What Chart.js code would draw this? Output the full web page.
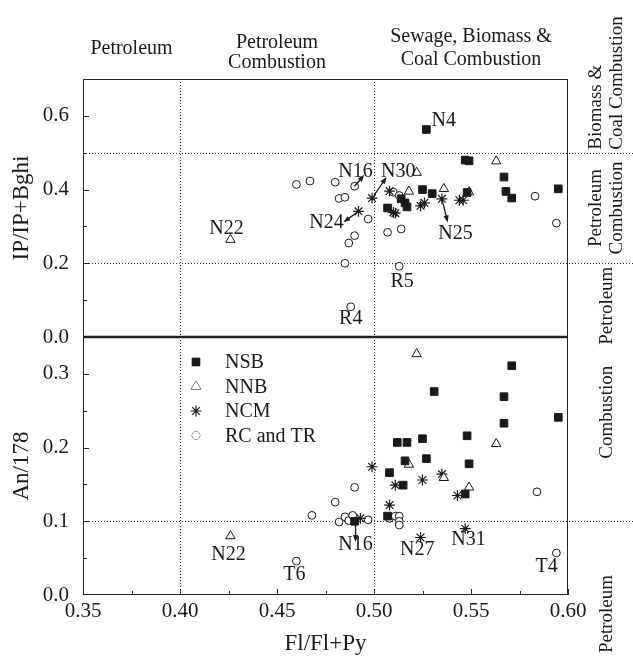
<!DOCTYPE html>
<html>
<head>
<meta charset="utf-8">
<script src="https://cdn.jsdelivr.net/npm/chart.js@4.4.0/dist/chart.umd.min.js"></script>
<style>
  html, body { margin: 0; padding: 0; background: #fff; }
</style>
</head>
<body>
<canvas id="myChart" width="633" height="661"></canvas>
<script>
// series names (legend order)
var seriesNames = ['NSB', 'NNB', 'NCM', 'RC and TR'];

// upper panel: IP/IP+Bghi vs Fl/Fl+Py
var nsbTop = [[0.527,0.563],[0.547,0.480],[0.549,0.478],[0.567,0.434],[0.525,0.400],[0.530,0.389],
  [0.548,0.392],[0.568,0.395],[0.571,0.377],[0.595,0.402],[0.514,0.375],[0.516,0.364],[0.517,0.353],[0.507,0.350]];
var nnbTop = [[0.426,0.264],[0.522,0.446],[0.518,0.395],[0.536,0.402],[0.549,0.393],[0.563,0.477]];
var ncmTop = [[0.499,0.377],[0.492,0.341],[0.508,0.396],[0.510,0.338],[0.511,0.336],[0.524,0.356],
  [0.526,0.364],[0.535,0.375],[0.544,0.371],[0.546,0.371]];
var rcTop = [[0.460,0.414],[0.467,0.423],[0.480,0.420],[0.490,0.409],[0.482,0.376],[0.485,0.379],
  [0.497,0.320],[0.490,0.275],[0.487,0.255],[0.485,0.200],[0.488,0.082],[0.513,0.192],[0.507,0.284],
  [0.514,0.293],[0.510,0.393],[0.513,0.384],[0.583,0.382],[0.594,0.309]];

// lower panel: An/178 vs Fl/Fl+Py
var nsbBot = [[0.571,0.311],[0.531,0.276],[0.567,0.269],[0.595,0.241],[0.567,0.233],[0.512,0.207],
  [0.517,0.207],[0.525,0.212],[0.548,0.216],[0.516,0.182],[0.527,0.185],[0.549,0.178],[0.508,0.166],
  [0.515,0.149],[0.547,0.137],[0.507,0.107],[0.490,0.100]];
var nnbBot = [[0.522,0.327],[0.563,0.205],[0.518,0.177],[0.536,0.159],[0.549,0.146],[0.426,0.080]];
var ncmBot = [[0.499,0.174],[0.511,0.149],[0.525,0.156],[0.535,0.164],[0.543,0.135],[0.508,0.122],
  [0.493,0.104],[0.524,0.078],[0.547,0.090]];
var rcBot = [[0.490,0.146],[0.480,0.126],[0.468,0.108],[0.482,0.099],[0.485,0.106],[0.487,0.101],
  [0.489,0.108],[0.497,0.102],[0.508,0.104],[0.511,0.107],[0.513,0.107],[0.513,0.100],[0.513,0.095],
  [0.460,0.046],[0.584,0.140],[0.594,0.057]];

// axis ticks
var xTicks = [0.35, 0.40, 0.45, 0.50, 0.55, 0.60];
var topTicks = [0.0, 0.2, 0.4, 0.6];
var botTicks = [0.0, 0.1, 0.2, 0.3];

// source boundaries
var xBounds = [0.40, 0.50];
var topBounds = [0.2, 0.5];
var botBounds = [0.1];

var topZoneNames = [['Petroleum'], ['Petroleum', 'Combustion'], ['Sewage, Biomass &', 'Coal Combustion']];
var rightTopNames = [['Biomass &', 'Coal Combustion'], ['Petroleum', 'Combustion'], ['Petroleum']];
var rightBotNames = [['Combustion'], ['Petroleum']];

// sample labels [text, x, y] and arrows [x1, y1, x2, y2]
var topNotes = [['N4',0.536,0.588],['N16',0.4905,0.447],['N30',0.5125,0.447],['N22',0.424,0.293],
  ['N24',0.4755,0.311],['N25',0.542,0.281],['R5',0.5145,0.149],['R4',0.488,0.049]];
var topArrows = [[0.490,0.409,0.495,0.440],[0.500,0.384,0.5065,0.434],[0.492,0.341,0.4842,0.311],[0.535,0.375,0.538,0.311]];
var botNotes = [['N22',0.425,0.054],['N16',0.4905,0.0676],['N27',0.5223,0.0608],['N31',0.5487,0.0752],
  ['T6',0.459,0.027],['T4',0.589,0.0383]];
var botArrows = [[0.4905,0.099,0.4905,0.072]];

var serif = '"Liberation Serif", "Times New Roman", serif';
var ink = '#1a1a1a';

function pts(arr) { return arr.map(function (p) { return {x: p[0], y: p[1]}; }); }

var styles = [
  {pointStyle: 'rect', pointRadius: 5.4, backgroundColor: ink, borderColor: ink, borderWidth: 1},
  {pointStyle: 'triangle', pointRadius: 5.4, backgroundColor: '#fff', borderColor: ink, borderWidth: 1},
  {pointStyle: 'star', pointRadius: 5.4, backgroundColor: ink, borderColor: ink, borderWidth: 1.2},
  {pointStyle: 'circle', pointRadius: 3.9, backgroundColor: '#fff', borderColor: ink, borderWidth: 1}
];

function ds(i, data, axis) {
  var s = styles[i];
  return {
    label: seriesNames[i], data: pts(data), yAxisID: axis, showLine: false,
    pointStyle: s.pointStyle, pointRadius: s.pointRadius, pointHoverRadius: s.pointRadius,
    backgroundColor: s.backgroundColor, borderColor: s.borderColor, borderWidth: s.borderWidth
  };
}

function hline(c, x1, y1, x2, y2) { c.beginPath(); c.moveTo(x1, y1); c.lineTo(x2, y2); c.stroke(); }

function arrow(c, x1, y1, x2, y2) {
  var ang = Math.atan2(y2 - y1, x2 - x1), L = 7, W = 2.6;
  c.lineWidth = 1.3;
  hline(c, x1, y1, x2 - Math.cos(ang) * L * 0.6, y2 - Math.sin(ang) * L * 0.6);
  c.beginPath();
  c.moveTo(x2, y2);
  c.lineTo(x2 - Math.cos(ang) * L - Math.sin(ang) * W, y2 - Math.sin(ang) * L + Math.cos(ang) * W);
  c.lineTo(x2 - Math.cos(ang) * L + Math.sin(ang) * W, y2 - Math.sin(ang) * L - Math.cos(ang) * W);
  c.closePath();
  c.fill();
}

// rotated text; align 'center' around cy, or 'left' starting at cy going up
function vtext(c, lines, cx, cy, gap, align) {
  c.save();
  c.translate(cx, cy);
  c.rotate(-Math.PI / 2);
  c.textAlign = align || 'center';
  var n = lines.length;
  lines.forEach(function (t, k) { c.fillText(t, 0, (k - (n - 1) / 2) * gap); });
  c.restore();
}

var decor = {
  id: 'decor',
  beforeDatasetsDraw: function (chart) {
    var c = chart.ctx, a = chart.chartArea, sx = chart.scales.x, st = chart.scales.yTop, sb = chart.scales.yBot;
    c.save();
    c.strokeStyle = '#333';
    c.lineWidth = 1;
    c.setLineDash([1, 2]);
    xBounds.forEach(function (v) { var x = Math.round(sx.getPixelForValue(v)) + 0.5; hline(c, x, a.top, x, a.bottom); });
    topBounds.forEach(function (v) { var y = Math.round(st.getPixelForValue(v)) + 0.5; hline(c, a.left, y, chart.width, y); });
    botBounds.forEach(function (v) { var y = Math.round(sb.getPixelForValue(v)) + 0.5; hline(c, a.left, y, chart.width, y); });
    c.setLineDash([]);
    c.strokeStyle = '#222';
    // frame
    hline(c, a.left + 0.5, a.top, a.left + 0.5, a.bottom);
    hline(c, a.right - 0.5, a.top, a.right - 0.5, a.bottom);
    hline(c, a.left, a.top + 0.5, a.right, a.top + 0.5);
    hline(c, a.left, a.bottom - 0.5, a.right, a.bottom - 0.5);
    // panel divider
    c.lineWidth = 2.5;
    var y0 = st.getPixelForValue(0);
    hline(c, a.left, y0, a.right, y0);
    // inward ticks
    c.lineWidth = 1;
    var i, v, p;
    for (i = 0; i <= 10; i++) {
      v = 0.35 + i * 0.025;
      p = Math.round(sx.getPixelForValue(v)) + 0.5;
      hline(c, p, a.bottom, p, a.bottom - (i % 2 ? 4 : 6));
    }
    for (i = 1; i <= 6; i++) {
      p = Math.round(st.getPixelForValue(i / 10)) + 0.5;
      hline(c, a.left, p, a.left + (i % 2 ? 4 : 6), p);
    }
    for (i = 1; i <= 6; i++) {
      p = Math.round(sb.getPixelForValue(i * 0.05)) + 0.5;
      hline(c, a.left, p, a.left + (i % 2 ? 4 : 6), p);
    }
    c.restore();
  },
  afterDatasetsDraw: function (chart) {
    var c = chart.ctx, a = chart.chartArea, sx = chart.scales.x, st = chart.scales.yTop, sb = chart.scales.yBot;
    c.save();
    c.fillStyle = ink;
    c.strokeStyle = ink;
    c.textAlign = 'center';
    c.textBaseline = 'middle';
    c.font = '20px ' + serif;

    // zone names above the plot
    var edges = [0.35].concat(xBounds, [0.60]);
    var zoneY = [[a.top - 30], [a.top - 36, a.top - 16], [a.top - 42, a.top - 19]];
    topZoneNames.forEach(function (lines, k) {
      var cx = (sx.getPixelForValue(edges[k]) + sx.getPixelForValue(edges[k + 1])) / 2;
      lines.forEach(function (t, j) { c.fillText(t, cx, zoneY[k][j]); });
    });

    // zone names right of the plot
    c.font = '19px ' + serif;
    var rx = a.right + 39;
    vtext(c, rightTopNames[0], rx, st.getPixelForValue(0.5) - 3, 21, 'left');
    vtext(c, rightTopNames[1], rx, st.getPixelForValue(0.35), 21);
    vtext(c, rightTopNames[2], rx, st.getPixelForValue(0.085), 21);
    vtext(c, rightBotNames[0], rx, sb.getPixelForValue(0.248), 21);
    vtext(c, rightBotNames[1], rx, a.bottom + 19, 21);

    // sample labels and arrows
    c.font = '20px ' + serif;
    topNotes.forEach(function (n) { c.fillText(n[0], sx.getPixelForValue(n[1]), st.getPixelForValue(n[2])); });
    botNotes.forEach(function (n) { c.fillText(n[0], sx.getPixelForValue(n[1]), sb.getPixelForValue(n[2])); });
    topArrows.forEach(function (r) {
      arrow(c, sx.getPixelForValue(r[0]), st.getPixelForValue(r[1]), sx.getPixelForValue(r[2]), st.getPixelForValue(r[3]));
    });
    botArrows.forEach(function (r) {
      arrow(c, sx.getPixelForValue(r[0]), sb.getPixelForValue(r[1]), sx.getPixelForValue(r[2]), sb.getPixelForValue(r[3]));
    });

    // legend inside the lower panel
    var lx = sx.getPixelForValue(0.40) + 16, ly = sb.getPixelForValue(0.35) + 25;
    c.textAlign = 'left';
    chart.data.datasets.slice(0, 4).forEach(function (d, k) {
      var y = ly + k * 24.5;
      c.lineWidth = d.borderWidth;
      c.fillStyle = d.backgroundColor;
      c.strokeStyle = d.borderColor;
      Chart.helpers.drawPoint(c, {pointStyle: d.pointStyle, radius: d.pointRadius, borderWidth: d.borderWidth}, lx, y);
      if (d.pointStyle !== 'star') c.fill();
      c.fillStyle = ink;
      c.fillText(d.label, lx + 29, y + 1);
    });
    c.restore();
  }
};

var tickFont = {family: serif, size: 21};
var titleFont = {family: serif, size: 23};

var ctx = document.getElementById('myChart').getContext('2d');
var myChart = new Chart(ctx, {
  type: 'scatter',
  data: {
    datasets: [
      ds(0, nsbBot, 'yBot'), ds(1, nnbBot, 'yBot'), ds(2, ncmBot, 'yBot'), ds(3, rcBot, 'yBot'),
      ds(0, nsbTop, 'yTop'), ds(1, nnbTop, 'yTop'), ds(2, ncmTop, 'yTop'), ds(3, rcTop, 'yTop')
    ]
  },
  options: {
    responsive: false,
    animation: false,
    layout: {padding: {top: 79, right: 65, left: 0, bottom: 0}},
    plugins: {legend: {display: false}, tooltip: {enabled: false}},
    scales: {
      x: {
        type: 'linear', position: 'bottom', min: 0.35, max: 0.60,
        grid: {display: false}, border: {display: false},
        afterBuildTicks: function (s) { s.ticks = xTicks.map(function (v) { return {value: v}; }); },
        afterFit: function (s) { s.height = 66; },
        ticks: {padding: -4, color: ink, font: tickFont, maxRotation: 0,
          callback: function (v) { return v.toFixed(2); }},
        title: {display: true, text: 'Fl/Fl+Py', color: ink, font: titleFont, padding: {top: 0, bottom: 3}}
      },
      yTop: {
        type: 'linear', position: 'left', stack: 'panels', stackWeight: 1, weight: 2, min: 0, max: 0.7,
        grid: {display: false}, border: {display: false},
        afterBuildTicks: function (s) { s.ticks = topTicks.map(function (v) { return {value: v}; }); },
        afterFit: function (s) { s.width = 83; },
        ticks: {padding: 6, color: ink, font: tickFont,
          callback: function (v) { return v.toFixed(1); }},
        title: {display: true, text: 'IP/IP+Bghi', color: ink, font: titleFont, padding: {top: 8, bottom: 0}}
      },
      yBot: {
        type: 'linear', position: 'left', stack: 'panels', stackWeight: 1, weight: 1, min: 0, max: 0.35,
        grid: {display: false}, border: {display: false},
        afterBuildTicks: function (s) { s.ticks = botTicks.map(function (v) { return {value: v}; }); },
        afterFit: function (s) { s.width = 83; },
        ticks: {padding: 6, color: ink, font: tickFont,
          callback: function (v) { return v.toFixed(1); }},
        title: {display: true, text: 'An/178', color: ink, font: titleFont, padding: {top: 8, bottom: 0}}
      }
    }
  },
  plugins: [decor]
});
</script>
</body>
</html>
